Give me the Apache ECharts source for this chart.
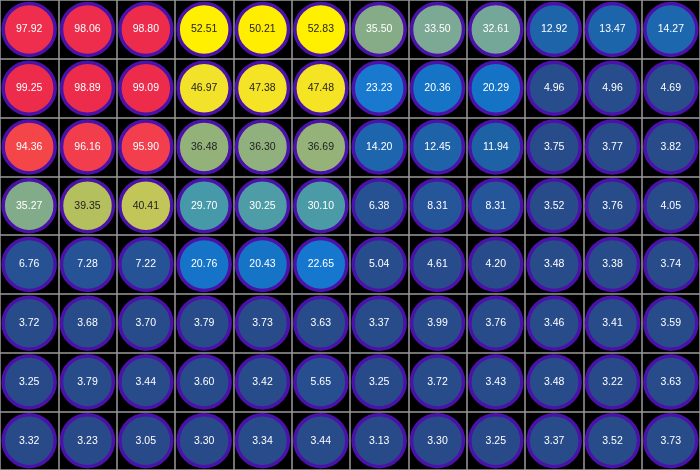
<!DOCTYPE html>
<html><head><meta charset="utf-8">
<script src="https://cdn.jsdelivr.net/npm/echarts@6/dist/echarts.min.js"></script>
<style>html,body{margin:0;background:#000}#c{width:700px;height:470px}</style></head>
<body><div id="c"></div>
<script>
const columns = ['1','2','3','4','5','6','7','8','9','10','11','12'];
const rows = ['1','2','3','4','5','6','7','8'];
const row1 = [97.92,98.06,98.80,52.51,50.21,52.83,35.50,33.50,32.61,12.92,13.47,14.27];
const row2 = [99.25,98.89,99.09,46.97,47.38,47.48,23.23,20.36,20.29,4.96,4.96,4.69];
const row3 = [94.36,96.16,95.90,36.48,36.30,36.69,14.20,12.45,11.94,3.75,3.77,3.82];
const row4 = [35.27,39.35,40.41,29.70,30.25,30.10,6.38,8.31,8.31,3.52,3.76,4.05];
const row5 = [6.76,7.28,7.22,20.76,20.43,22.65,5.04,4.61,4.20,3.48,3.38,3.74];
const row6 = [3.72,3.68,3.70,3.79,3.73,3.63,3.37,3.99,3.76,3.46,3.41,3.59];
const row7 = [3.25,3.79,3.44,3.60,3.42,5.65,3.25,3.72,3.43,3.48,3.22,3.63];
const row8 = [3.32,3.23,3.05,3.30,3.34,3.44,3.13,3.30,3.25,3.37,3.52,3.73];
const allRows = [row1,row2,row3,row4,row5,row6,row7,row8];

const stops = [[3,'#284a88'],[5,'#284d8c'],[8,'#245598'],[12,'#1e62a6'],[14,'#1d66ad'],[20,'#1573c4'],[23,'#1678cf'],[29.7,'#4599a8'],[33,'#7aa996'],[35.3,'#82ab8a'],[36.5,'#93b27a'],[39.4,'#b5bf5c'],[40.4,'#c2c557'],[47,'#f2e22a'],[50,'#ffee00'],[53,'#fff000'],[94,'#f44848'],[96,'#f23e4d'],[98,'#ee2d4c'],[100,'#ec2a4b']];
function hex(h){return [1,3,5].map(i=>parseInt(h.substr(i,2),16));}
function colorFor(v){
  for(let i=1;i<stops.length;i++){
    if(v<=stops[i][0]){
      const [a,ca]=stops[i-1],[b,cb]=stops[i];
      const t=Math.max(0,Math.min(1,(v-a)/(b-a)));
      const x=hex(ca),y=hex(cb);
      return 'rgb('+x.map((c,k)=>Math.round(c+(y[k]-c)*t)).join(',')+')';
    }
  }
  return stops[stops.length-1][1];
}
const data=[];
allRows.forEach((r,ri)=>r.forEach((v,ci)=>data.push([ci,ri,v])));
const chart=echarts.init(document.getElementById('c'));
chart.setOption({
  backgroundColor:'#000',
  animation:false,
  grid:{left:0,right:0,top:0,bottom:0},
  xAxis:{type:'category',data:columns,axisLine:{show:false},axisTick:{show:false},axisLabel:{show:false},
    splitLine:{show:true,lineStyle:{color:'#9a9a9a',width:1.5}}},
  yAxis:{type:'category',data:rows,inverse:true,axisLine:{show:false},axisTick:{show:false},axisLabel:{show:false},
    splitLine:{show:true,lineStyle:{color:'#9a9a9a',width:1.5}}},
  series:[{type:'scatter',symbolSize:52,emphasis:{disabled:true},data:data.map(d=>({value:d,
    itemStyle:{color:colorFor(d[2]),opacity:1,borderColor:'#4a12a8',borderWidth:3.5},
    label:{show:true,formatter:d[2].toFixed(2),color:(d[2]>=36&&d[2]<60)?'#222':'#fff',fontSize:10.5,fontFamily:'Arial, Liberation Sans'}}))}]
});
</script></body></html>
